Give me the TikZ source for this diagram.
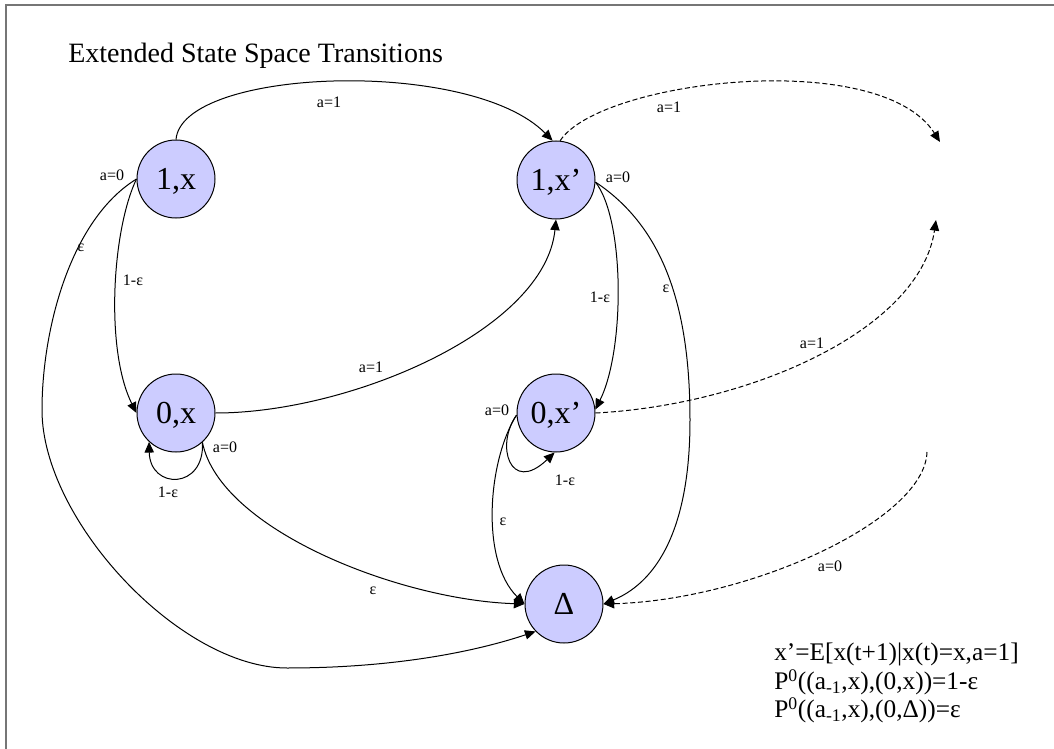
\documentclass[tikz,border=0pt]{standalone}
\usepackage{fontspec}
\setmainfont{Liberation Serif}
\usepackage{tikz}
\usetikzlibrary{arrows.meta}
\definecolor{statefill}{RGB}{204,204,255}
\definecolor{framegray}{RGB}{118,118,118}
\tikzstyle{state} = [
    circle,
    draw=black,
    line width=0.75pt,
    fill=statefill,
    minimum size=58.5pt,
    inner sep=0pt,
    text depth=0pt,
    font=\fontsize{24}{28}\selectfont
]
\tikzstyle{lbl} = [
    inner sep=0pt,
    font=\fontsize{12}{14}\selectfont
]
\tikzstyle{trans} = [
    -{Triangle[length=8pt,width=7pt]},
    line width=0.75pt,
    draw=black
]
\tikzstyle{ghost} = [
    trans,
    dash pattern=on 3.75pt off 2pt
]

\begin{document}
\begin{tikzpicture}[x=0.75pt, y=-0.75pt]
        \useasboundingbox (0,0) rectangle (1054,749);

        % Frame
        \draw[framegray, line width=1.5pt] (6,749) -- (6,5) -- (1054,5);

        % Title
        \node[anchor=base west, inner sep=0pt, font=\fontsize{21}{25}\selectfont] (title) at (68,63) {Extended State Space Transitions};

        % States
        \node[state] (s1x) at (176,179) {1,x};
        \node[state] (s1xp) at (556,180) {1,x’};
        \node[state] (s0x) at (176,413) {0,x};
        \node[state] (s0xp) at (556,413) {0,x’};
        \node[state] (sd) at (564,604) {Δ};

        % Open ends of the dashed transitions
        \coordinate (out1) at (940,142);
        \coordinate (out2) at (936,220);
        \coordinate (out3) at (927,452);

        % Transitions
        \draw[trans] (s1x.90) .. controls (182,68) and (470,57) .. (s1xp.95);
        \draw[ghost] (s1xp.84) .. controls (600,80) and (880,47) .. (out1);
        \draw[trans] (s1x.180) .. controls (70,220) and (42,330) .. (42,410)
            .. controls (42,520) and (180,668) .. (287,668)
            .. controls (400,668) and (480,650) .. (sd.224);
        \draw[trans] (s1x.180) .. controls (112,230) and (105,350) .. (s0x.180);
        \draw[trans] (s0x.0) .. controls (350,413) and (545,330) .. (s1xp.270);
        \draw[trans] (s0x.-48) .. controls (205,490) and (150,490) .. (s0x.-133);
        \draw[trans] (s0x.-48) .. controls (220,530) and (400,600) .. (sd.180);
        \draw[trans] (s1xp.357) .. controls (625,220) and (625,350) .. (s0xp.5);
        \draw[trans] (s1xp.357) .. controls (660,225) and (690,300) .. (690,420)
            .. controls (690,540) and (650,585) .. (sd.0);
        \draw[trans] (s0xp.183) .. controls (495,445) and (510,495) .. (s0xp.268);
        \draw[trans] (s0xp.183) .. controls (488,460) and (480,560) .. (sd.180);
        \draw[ghost] (s0xp.0) .. controls (750,405) and (920,330) .. (out2);
        \draw[ghost] (out3) .. controls (925,520) and (750,600) .. (sd.0);

        % Labels
        \node[lbl] (l1) at (329,102) {a=1};
        \node[lbl] (l2) at (669,107) {a=1};
        \node[lbl] (l3) at (618,177) {a=0};
        \node[lbl] (l4) at (112,175) {a=0};
        \node[lbl] (l5) at (81,248) {ε};
        \node[lbl] (l6) at (133,280) {1-ε};
        \node[lbl] (l7) at (371,367) {a=1};
        \node[lbl] (l8) at (225,447) {a=0};
        \node[lbl] (l9) at (168,492) {1-ε};
        \node[lbl] (l10) at (373,591) {ε};
        \node[lbl] (l11) at (600,297) {1-ε};
        \node[lbl] (l12) at (666,289) {ε};
        \node[lbl] (l13) at (812,343) {a=1};
        \node[lbl] (l14) at (497,410) {a=0};
        \node[lbl] (l15) at (565,480) {1-ε};
        \node[lbl] (l16) at (503,522) {ε};
        \node[lbl] (l17) at (830,566) {a=0};

        % Notes
        \node[anchor=north west, inner sep=0pt, align=left, font=\fontsize{19}{21.4}\selectfont] (notes) at (774,643) {x’=E[x(t+1)|x(t)=x,a=1]\\P\textsuperscript{0}((a\textsubscript{-1},x),(0,x))=1-ε\\P\textsuperscript{0}((a\textsubscript{-1},x),(0,Δ))=ε};
    \end{tikzpicture}
\end{document}
